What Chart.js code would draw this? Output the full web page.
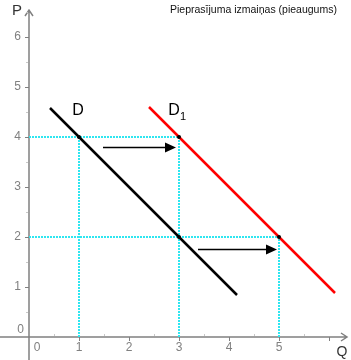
<!DOCTYPE html>
<html>
<head>
<meta charset="utf-8">
<script src="https://cdn.jsdelivr.net/npm/chart.js@4"></script>
<style>
html, body { margin: 0; padding: 0; background: #fff; }
</style>
</head>
<body>
<canvas id="grafiks" width="351" height="360"></canvas>
<script>
var virsraksts = 'Pieprasījuma izmaiņas (pieaugums)';
var pieprasijumsD = [{x: 0.42, y: 4.58}, {x: 4.16, y: 0.84}];
var pieprasijumsD1 = [{x: 2.4, y: 4.6}, {x: 6.12, y: 0.88}];
var lidzsvars = [{x: 1, y: 4}, {x: 3, y: 4}, {x: 3, y: 2}, {x: 5, y: 2}];
var palglinijas = [
    [{x: 0, y: 4}, {x: 3, y: 4}],
    [{x: 1, y: 0}, {x: 1, y: 4}],
    [{x: 3, y: 0}, {x: 3, y: 4}],
    [{x: 0, y: 2}, {x: 5, y: 2}],
    [{x: 5, y: 0}, {x: 5, y: 2}]
];
var bultas = [
    [{x: 1.48, y: 3.81}, {x: 2.94, y: 3.81}],
    [{x: 3.38, y: 1.77}, {x: 4.96, y: 1.77}]
];
var xTicks = [0, 1, 2, 3, 4, 5, 6];
var xTickLabels = ['0', '1', '2', '3', '4', '5', ''];
var yTicks = [0, 1, 2, 3, 4, 5, 6];
var yTickLabels = ['0', '1', '2', '3', '4', '5', '6'];
var xRange = [-0.58, 6.44];
var yRange = [-0.46, 6.74];

var fonts = "'Liberation Sans', Arial, sans-serif";
var asuKrasa = '#808080';

var zimejums = {
    id: 'zimejums',
    beforeDatasetsDraw: function (chart) {
        var ctx = chart.ctx, sx = chart.scales.x, sy = chart.scales.y;
        var x0 = Math.round(sx.getPixelForValue(0)), y0 = Math.round(sy.getPixelForValue(0));
        var xEnd = sx.getPixelForValue(6.36), yTop = sy.getPixelForValue(6.54);
        ctx.save();
        ctx.strokeStyle = asuKrasa;
        ctx.lineWidth = 1.5;
        ctx.beginPath();
        ctx.moveTo(x0, chart.chartArea.bottom); ctx.lineTo(x0, yTop);
        ctx.moveTo(chart.chartArea.left, y0); ctx.lineTo(xEnd, y0);
        // bultu galvas
        ctx.moveTo(x0 - 4, yTop + 6); ctx.lineTo(x0, yTop); ctx.lineTo(x0 + 4, yTop + 6);
        ctx.moveTo(xEnd - 6, y0 - 4); ctx.lineTo(xEnd, y0); ctx.lineTo(xEnd - 6, y0 + 4);
        ctx.stroke();

        // iedalas
        ctx.lineWidth = 1;
        xTicks.forEach(function (v) {
            var px = Math.round(sx.getPixelForValue(v)) + 0.5;
            if (v > 0) {
                ctx.strokeStyle = asuKrasa;
                ctx.beginPath(); ctx.moveTo(px, y0); ctx.lineTo(px, y0 + 4); ctx.stroke();
            }
            var pm = Math.round(sx.getPixelForValue(v + 0.5)) + 0.5;
            ctx.strokeStyle = '#c8c8c8';
            ctx.beginPath(); ctx.moveTo(pm, y0 - 3); ctx.lineTo(pm, y0 - 1); ctx.stroke();
        });
        yTicks.forEach(function (v) {
            var py = Math.round(sy.getPixelForValue(v)) + 0.5;
            if (v > 0) {
                ctx.strokeStyle = asuKrasa;
                ctx.beginPath(); ctx.moveTo(x0 - 4, py); ctx.lineTo(x0, py); ctx.stroke();
            }
            var pm = Math.round(sy.getPixelForValue(v + 0.5)) + 0.5;
            ctx.strokeStyle = '#c8c8c8';
            ctx.beginPath(); ctx.moveTo(x0 - 3, pm); ctx.lineTo(x0 - 1, pm); ctx.stroke();
        });

        // iedalu uzraksti
        ctx.fillStyle = asuKrasa;
        ctx.font = '12px ' + fonts;
        ctx.textBaseline = 'middle';
        ctx.textAlign = 'center';
        xTicks.forEach(function (v, i) {
            var px = sx.getPixelForValue(v);
            if (v === 0) px += 8;
            ctx.fillText(xTickLabels[i], px, y0 + 11);
        });
        ctx.textAlign = 'right';
        yTicks.forEach(function (v, i) {
            var py = sy.getPixelForValue(v);
            var px = x0 - 8;
            if (v === 0) { py -= 7; px += 3; }
            ctx.fillText(yTickLabels[i], px, py);
        });
        ctx.restore();
    },
    afterDatasetsDraw: function (chart) {
        var ctx = chart.ctx, sx = chart.scales.x, sy = chart.scales.y;
        ctx.save();
        // nobīdes bultas
        ctx.strokeStyle = '#000';
        ctx.fillStyle = '#000';
        ctx.lineWidth = 1.5;
        bultas.forEach(function (b) {
            var ax = sx.getPixelForValue(b[0].x), ay = Math.round(sy.getPixelForValue(b[0].y)) + 0.5;
            var bx = sx.getPixelForValue(b[1].x);
            ctx.beginPath(); ctx.moveTo(ax, ay); ctx.lineTo(bx - 8, ay); ctx.stroke();
            ctx.beginPath();
            ctx.moveTo(bx, ay); ctx.lineTo(bx - 11, ay - 5); ctx.lineTo(bx - 11, ay + 5);
            ctx.closePath(); ctx.fill();
        });

        // līkņu nosaukumi
        ctx.fillStyle = '#000';
        ctx.textBaseline = 'middle';
        ctx.textAlign = 'center';
        ctx.font = '16px ' + fonts;
        ctx.fillText('D', sx.getPixelForValue(0.98), sy.getPixelForValue(4.52));
        ctx.fillText('D', sx.getPixelForValue(2.9), sy.getPixelForValue(4.52));
        ctx.font = '11px ' + fonts;
        ctx.fillText('1', sx.getPixelForValue(3.08), sy.getPixelForValue(4.4));

        // asu nosaukumi
        ctx.fillStyle = '#333';
        ctx.font = '15px ' + fonts;
        ctx.fillText('P', 17, 11);
        ctx.font = '14px ' + fonts;
        ctx.fillText('Q', 342, 352);

        // virsraksts
        ctx.fillStyle = '#111';
        ctx.font = '10.5px ' + fonts;
        ctx.textAlign = 'left';
        ctx.fillText(virsraksts, 170, 10);
        ctx.restore();
    }
};

var datasets = [
    { data: lidzsvars, showLine: false, pointRadius: 2, pointBackgroundColor: '#000', pointBorderWidth: 0 },
    { data: pieprasijumsD, showLine: true, borderColor: '#000', borderWidth: 2.5, pointRadius: 0 },
    { data: pieprasijumsD1, showLine: true, borderColor: '#ff0000', borderWidth: 2.5, pointRadius: 0 }
];
palglinijas.forEach(function (seg) {
    datasets.push({ data: seg, showLine: true, borderColor: '#2ee6f0', borderWidth: 2, borderDash: [2, 1], pointRadius: 0 });
});

new Chart(document.getElementById('grafiks'), {
    type: 'scatter',
    data: { datasets: datasets },
    options: {
        responsive: false,
        animation: false,
        layout: { padding: 0, autoPadding: false },
        plugins: { legend: { display: false }, tooltip: { enabled: false } },
        scales: {
            x: { type: 'linear', display: false, min: xRange[0], max: xRange[1] },
            y: { type: 'linear', display: false, min: yRange[0], max: yRange[1] }
        }
    },
    plugins: [zimejums]
});
</script>
</body>
</html>
